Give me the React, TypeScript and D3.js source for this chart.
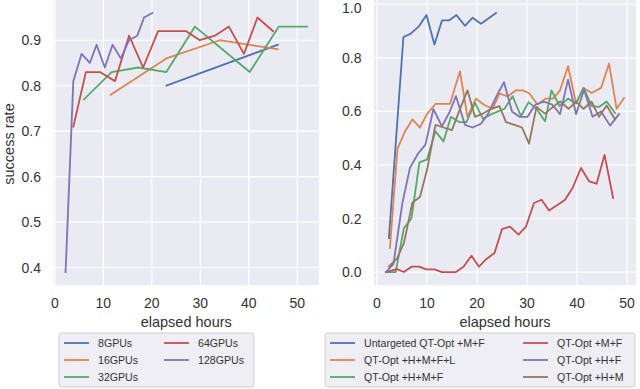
import React from "react";
import * as d3 from "d3";

type Pt = [number, number];

// ---------- Left chart data ----------
const leftNames = ["8GPUs", "16GPUs", "32GPUs", "64GPUs", "128GPUs"];
const gpu8: Pt[] = [[23, 0.8], [46, 0.89]];
const gpu16: Pt[] = [[11.5, 0.78], [23, 0.86], [34, 0.9], [46, 0.88]];
const gpu32: Pt[] = [[6, 0.77], [11.7, 0.83], [17.2, 0.84], [23, 0.83], [28.9, 0.93], [40.2, 0.83], [46.2, 0.93], [52, 0.93]];
const gpu64: Pt[] = [[3.8, 0.71], [6.4, 0.83], [9.3, 0.83], [12.4, 0.81], [15.3, 0.91], [18.2, 0.84], [21.3, 0.92], [27.1, 0.92], [29.9, 0.9], [33, 0.91], [35.9, 0.93], [39, 0.87], [41.8, 0.95], [45, 0.92]];
const gpu128: Pt[] = [[2.2, 0.39], [3.8, 0.81], [5.5, 0.87], [7.2, 0.85], [8.6, 0.89], [10.3, 0.84], [11.9, 0.89], [13.6, 0.86], [15.3, 0.9], [17, 0.91], [18.4, 0.95], [20.1, 0.96]];
const leftSeries = [gpu8, gpu16, gpu32, gpu64, gpu128];
const leftXTicks = [0, 10, 20, 30, 40, 50];
const leftYTicks = [0.4, 0.5, 0.6, 0.7, 0.8, 0.9];

// ---------- Right chart data ----------
const rightNames = ["Untargeted QT-Opt +M+F", "QT-Opt +H+M+F+L", "QT-Opt +H+M+F", "QT-Opt +M+F", "QT-Opt +H+F", "QT-Opt +H+M"];
const untargeted: Pt[] = [[2.4, 0.127], [5.3, 0.878], [6.7, 0.89], [8.4, 0.918], [9.9, 0.96], [11.5, 0.85], [13, 0.94], [14.4, 0.94], [15.9, 0.96], [17.6, 0.92], [19.1, 0.95], [20.8, 0.928], [23.8, 0.968]];
const hmfl: Pt[] = [[2.6, 0.09], [4.1, 0.46], [5.6, 0.525], [7.1, 0.57], [8.6, 0.54], [10, 0.59], [11.7, 0.628], [13.1, 0.628], [14.6, 0.628], [16.6, 0.75], [18.1, 0.58], [19.8, 0.648], [21.4, 0.625], [23.1, 0.61], [24.5, 0.667], [26.1, 0.656], [27.8, 0.679], [29.1, 0.679], [30.4, 0.669], [32.1, 0.626], [33.7, 0.648], [35.2, 0.648], [36.6, 0.679], [38.2, 0.769], [39.8, 0.63], [41.3, 0.688], [42.9, 0.669], [44.8, 0.688], [46.4, 0.779], [47.9, 0.61], [49.4, 0.65]];
const hmf: Pt[] = [[1.8, 0], [3.75, 0], [5.4, 0.164], [6.9, 0.2], [8.5, 0.41], [10, 0.42], [11.7, 0.526], [13.3, 0.488], [14.8, 0.58], [16.5, 0.56], [17.9, 0.56], [19.6, 0.632], [21.2, 0.573], [22.9, 0.59], [25.5, 0.61], [27.1, 0.657], [28.8, 0.582], [30.3, 0.635], [31.9, 0.61], [33.6, 0.563], [34.9, 0.679], [36.5, 0.62], [38.2, 0.648], [39.8, 0.63], [41.3, 0.688], [42.9, 0.62], [44.4, 0.617], [45.9, 0.637], [47.6, 0.594]];
const mf: Pt[] = [[1.8, 0], [4, 0.011], [5.4, 0], [6.9, 0.02], [8.4, 0.02], [9.9, 0.01], [11.5, 0.01], [13, 0], [14.5, 0], [15.8, 0], [17.3, 0.02], [18.9, 0.061], [20.4, 0.02], [21.9, 0.049], [23.5, 0.071], [25, 0.16], [26.6, 0.17], [28.3, 0.14], [29.8, 0.17], [31.4, 0.258], [32.9, 0.27], [34.4, 0.23], [36, 0.25], [37.6, 0.27], [39.1, 0.314], [40.8, 0.389], [42.4, 0.339], [43.9, 0.33], [45.5, 0.438], [47.2, 0.277]];
const hf: Pt[] = [[1.8, 0], [3.3, 0.03], [5.1, 0.258], [6.6, 0.389], [8.2, 0.442], [9.7, 0.476], [11.3, 0.609], [13, 0.544], [14.5, 0.597], [15.8, 0.657], [17.6, 0.55], [19.1, 0.54], [20.8, 0.554], [22.2, 0.59], [23.9, 0.657], [25.4, 0.709], [27, 0.6], [28.5, 0.58], [30.1, 0.58], [31.7, 0.626], [33.4, 0.637], [35, 0.626], [36.6, 0.59], [38.2, 0.719], [39.8, 0.59], [41.4, 0.681], [43.1, 0.58], [44.8, 0.6], [46.6, 0.547], [48.4, 0.59]];
const hm: Pt[] = [[2.4, 0.021], [4, 0.05], [5.4, 0.108], [7.1, 0.26], [8.6, 0.28], [10.1, 0.389], [11.7, 0.55], [13.3, 0.54], [15, 0.53], [16.5, 0.604], [18.1, 0.679], [19.6, 0.58], [21.2, 0.592], [22.8, 0.61], [24.5, 0.62], [25.8, 0.56], [27.5, 0.55], [29, 0.54], [30.4, 0.48], [31.9, 0.617], [33.6, 0.592], [35.2, 0.617], [36.6, 0.637], [38.3, 0.61], [39.8, 0.637], [41.3, 0.61], [42.9, 0.637], [44.4, 0.58], [45.9, 0.622], [47.6, 0.57]];
const rightSeries = [untargeted, hmfl, hmf, mf, hf, hm];
const rightXTicks = [0, 10, 20, 30, 40, 50];
const rightYTicks = [0, 0.2, 0.4, 0.6, 0.8, 1.0];

const palette = ["#4c72b0", "#dd8452", "#55a868", "#c44e52", "#8172b3", "#937860"];
const FONT = "'Liberation Sans', Arial, 'DejaVu Sans', sans-serif";
const TEXT = "#333333";

function padDomain(vals: number[]): [number, number] {
  const [a, b] = d3.extent(vals) as [number, number];
  const m = (b - a) * 0.05;
  return [a - m, b + m];
}

interface PanelProps {
  series: Pt[][];
  left: number;
  right: number;
  top: number;
  bottom: number;
  xTicks: number[];
  yTicks: number[];
  yFmt: (v: number) => string;
}

function Panel({ series, left, right, top, bottom, xTicks, yTicks, yFmt }: PanelProps) {
  const all = series.flat();
  const x = d3.scaleLinear().domain(padDomain(all.map((d) => d[0]))).range([left, right]);
  const y = d3.scaleLinear().domain(padDomain(all.map((d) => d[1]))).range([bottom, top]);
  const line = d3
    .line<Pt>()
    .x((d) => x(d[0]))
    .y((d) => y(d[1]));
  return (
    <g>
      <rect x={left} y={top} width={right - left} height={bottom - top} fill="#eaeaf2" />
      {xTicks.map((t) => (
        <line key={"gx" + t} x1={x(t)} x2={x(t)} y1={top} y2={bottom} stroke="#fff" strokeWidth={1.2} />
      ))}
      {yTicks.map((t) => (
        <line key={"gy" + t} x1={left} x2={right} y1={y(t)} y2={y(t)} stroke="#fff" strokeWidth={1.2} />
      ))}
      {series.map((s, i) => (
        <path key={"s" + i} d={line(s) || ""} fill="none" stroke={palette[i]} strokeWidth={1.8} strokeLinejoin="round" strokeLinecap="square" />
      ))}
      {xTicks.map((t) => (
        <text key={"tx" + t} x={x(t)} y={bottom + 23} textAnchor="middle" fontSize={14} fill={TEXT} fontFamily={FONT}>
          {t}
        </text>
      ))}
      {yTicks.map((t) => (
        <text key={"ty" + t} x={left - 12.5} y={Math.max(y(t) + 5, 12.5)} textAnchor="end" fontSize={14} fill={TEXT} fontFamily={FONT}>
          {yFmt(t)}
        </text>
      ))}
      <text x={(left + right) / 2} y={bottom + 42} textAnchor="middle" fontSize={14.5} fill={TEXT} fontFamily={FONT}>
        elapsed hours
      </text>
    </g>
  );
}

interface LegendProps {
  names: string[];
  x: number;
  y: number;
  w: number;
  h: number;
  col2x: number;
}

function Legend({ names, x, y, w, h, col2x }: LegendProps) {
  const rows = 3;
  return (
    <g>
      <rect x={x} y={y} width={w} height={h} rx={3} fill="#eeeef4" stroke="#cfcfd6" strokeWidth={1} />
      {names.map((n, i) => {
        const col = Math.floor(i / rows);
        const row = i % rows;
        const lx = col === 0 ? x + 5 : col2x;
        const ly = y + 10 + row * 17;
        return (
          <g key={n}>
            <line x1={lx} x2={lx + 25} y1={ly} y2={ly} stroke={palette[i]} strokeWidth={1.8} />
            <text x={lx + 34} y={ly + 3.8} fontSize={10.6} fill={TEXT} fontFamily={FONT}>
              {n}
            </text>
          </g>
        );
      })}
    </g>
  );
}

export default function App() {
  return (
    <svg width={640} height={389} style={{ position: "absolute", left: 0, top: 0, background: "#fff" }}>
      <Panel
        series={leftSeries}
        left={53.5}
        right={319}
        top={0}
        bottom={285}
        xTicks={leftXTicks}
        yTicks={leftYTicks}
        yFmt={(v) => d3.format(".1f")(v)}
      />
      <text
        transform={`translate(14,144) rotate(-90)`}
        textAnchor="middle"
        fontSize={14.5}
        fill={TEXT}
        fontFamily={FONT}
      >
        success rate
      </text>
      <Panel
        series={rightSeries}
        left={374}
        right={636}
        top={0}
        bottom={285}
        xTicks={rightXTicks}
        yTicks={rightYTicks}
        yFmt={(v) => d3.format(".1f")(v)}
      />
      <Legend names={leftNames} x={59} y={333} w={195} h={54} col2x={164} />
      <Legend names={rightNames} x={325} y={333} w={310} h={54} col2x={523} />
    </svg>
  );
}
